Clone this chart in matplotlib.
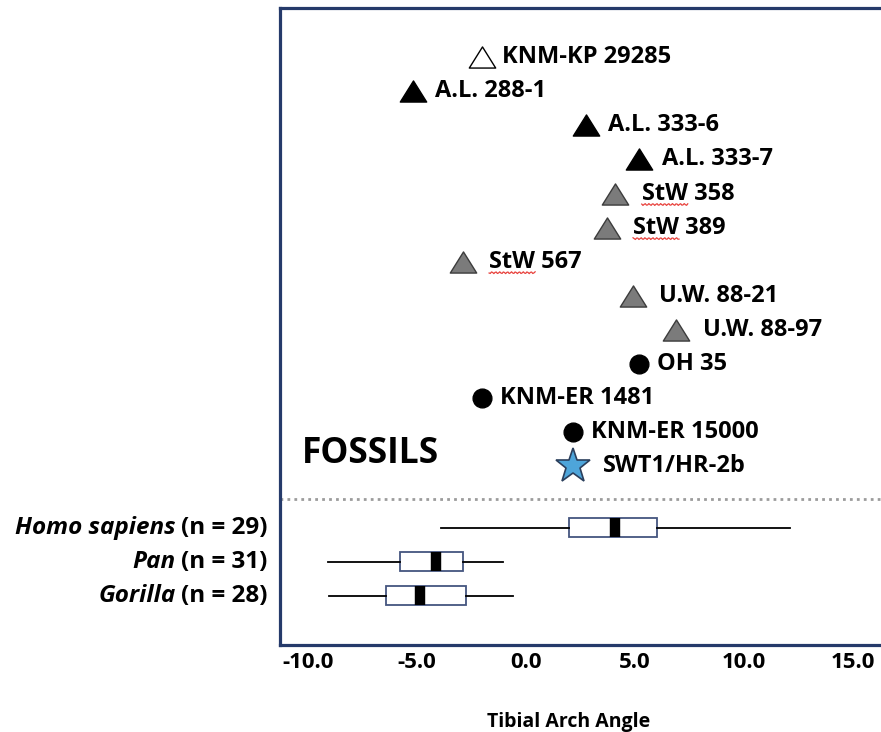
import numpy as np
import matplotlib.pyplot as plt
from matplotlib.path import Path

plt.rcParams['font.family'] = ['Open Sans', 'DejaVu Sans']
plt.rcParams['font.weight'] = 'bold'

# fossil specimens, listed top to bottom
fossils = ['KNM-KP 29285', 'A.L. 288-1', 'A.L. 333-6', 'A.L. 333-7',
           'StW 358', 'StW 389', 'StW 567', 'U.W. 88-21', 'U.W. 88-97',
           'OH 35', 'KNM-ER 1481', 'KNM-ER 15000', 'SWT1/HR-2b']
fossil_angle = [-2.0, -5.2, 2.75, 5.2, 4.1, 3.7, -2.9, 4.9, 6.9,
                5.2, -2.0, 2.15, 2.15]
fossil_group = ['anamensis', 'afarensis', 'afarensis', 'afarensis',
                'africanus', 'africanus', 'africanus', 'sediba', 'sediba',
                'homo', 'homo', 'homo', 'swt']

# extant samples (box = quartiles, whiskers = range)
species = ['Homo sapiens', 'Pan', 'Gorilla']
sample_n = [29, 31, 28]
whisker_lo = [-3.9, -9.1, -9.05]
q1 = [1.97, -5.78, -6.42]
median = [4.08, -4.13, -4.86]
q3 = [6.0, -2.89, -2.75]
whisker_hi = [12.1, -1.06, -0.6]

tri = Path([(-1, -0.8), (1, -0.8), (0, 0.8), (-1, -0.8)],
           [Path.MOVETO, Path.LINETO, Path.LINETO, Path.CLOSEPOLY])
styles = {
    'anamensis': dict(marker=tri, ms=19, mfc='white', mec='black', mew=1.0),
    'afarensis': dict(marker=tri, ms=19, mfc='black', mec='black', mew=1.0),
    'africanus': dict(marker=tri, ms=19, mfc='#7b7b7b', mec='#3c3c3c', mew=1.0),
    'sediba': dict(marker=tri, ms=19, mfc='#7b7b7b', mec='#3c3c3c', mew=1.0),
    'homo': dict(marker='o', ms=13.5, mfc='black', mec='black', mew=1.0),
    'swt': dict(marker='*', ms=26, mfc='#4ea5da', mec='#2b3f5c', mew=1.2),
}
label_pad = {'anamensis': 14, 'afarensis': 16, 'africanus': 19, 'sediba': 19,
             'homo': 13, 'swt': 22}

fig = plt.figure(figsize=(8.81, 7.32), dpi=100)
ax = fig.add_axes([280 / 881, 1 - 645 / 732, 604 / 881, 637 / 732])
ax.set_xlim(-11.28, 16.42)
ax.set_ylim(17.24, -1.44)
renderer = fig.canvas.get_renderer()

fossil_rows = np.arange(len(fossils))
for y, x, name, grp in zip(fossil_rows, fossil_angle, fossils, fossil_group):
    ax.plot(x, y, ls='none', zorder=3, **styles[grp])
    ax.annotate(name, (x, y), xytext=(label_pad[grp], 0),
                textcoords='offset points', ha='left', va='center',
                fontsize=17, fontweight='bold')
    if name.startswith('StW'):
        # red spell-check squiggle under the "StW" prefix
        word = ax.annotate('StW', (x, y), xytext=(label_pad[grp], 0),
                           textcoords='offset points', ha='left', va='center',
                           fontsize=17, fontweight='bold', alpha=0)
        bb = word.get_window_extent(renderer)
        px = np.linspace(bb.x0, bb.x1, 40)
        py = bb.y0 + 1.0 + 0.9 * np.sin(px * 1.6)
        ax.plot(px, py, color='#e8413c', lw=0.9, transform=None, zorder=4)

ax.text(-10.28, 11.64, 'FOSSILS', fontsize=25.5, fontweight='bold',
        ha='left', va='center')

# separator between fossils and extant samples
ax.axhline(12.96, color='#9c9c9c', lw=2.0, ls=(0, (1, 1.5)))

box_rows = [13.8, 14.8, 15.8]
stats = [dict(med=m, q1=a, q3=b, whislo=lo, whishi=hi, fliers=[])
         for m, a, b, lo, hi in zip(median, q1, q3, whisker_lo, whisker_hi)]
ax.bxp(stats, positions=box_rows, widths=0.56, orientation='horizontal',
       patch_artist=True, showcaps=False, showfliers=False, manage_ticks=False,
       boxprops=dict(facecolor='white', edgecolor='#44557f', linewidth=1.3),
       whiskerprops=dict(color='black', linewidth=1.3),
       medianprops=dict(color='black', linewidth=7.5, solid_capstyle='butt'))

for y, sp, n in zip(box_rows, species, sample_n):
    count = ax.annotate(f'(n = {n})', xy=(0, y), xycoords=('axes fraction', 'data'),
                        xytext=(-9, 0), textcoords='offset points',
                        ha='right', va='center', fontsize=17.5, fontweight='bold')
    ax.annotate(sp, xy=(0, 0.5), xycoords=count, xytext=(-4, 0),
                textcoords='offset points', ha='right', va='center',
                fontsize=17.5, fontweight='bold', fontstyle='italic')

ax.set_xticks(np.arange(-10, 16, 5))
ax.set_xticklabels([f'{v:.1f}' for v in np.arange(-10, 16, 5)],
                   fontsize=16, fontweight='bold')
ax.set_yticks([])
ax.tick_params(axis='x', length=0, pad=5)
ax.set_xlabel('Tibial Arch Angle', fontsize=14, fontweight='bold')
ax.xaxis.set_label_coords(0.478, -0.105)
for s in ax.spines.values():
    s.set_color('#253a6a')
    s.set_linewidth(2.3)

fig.savefig('out.png', dpi=100)
